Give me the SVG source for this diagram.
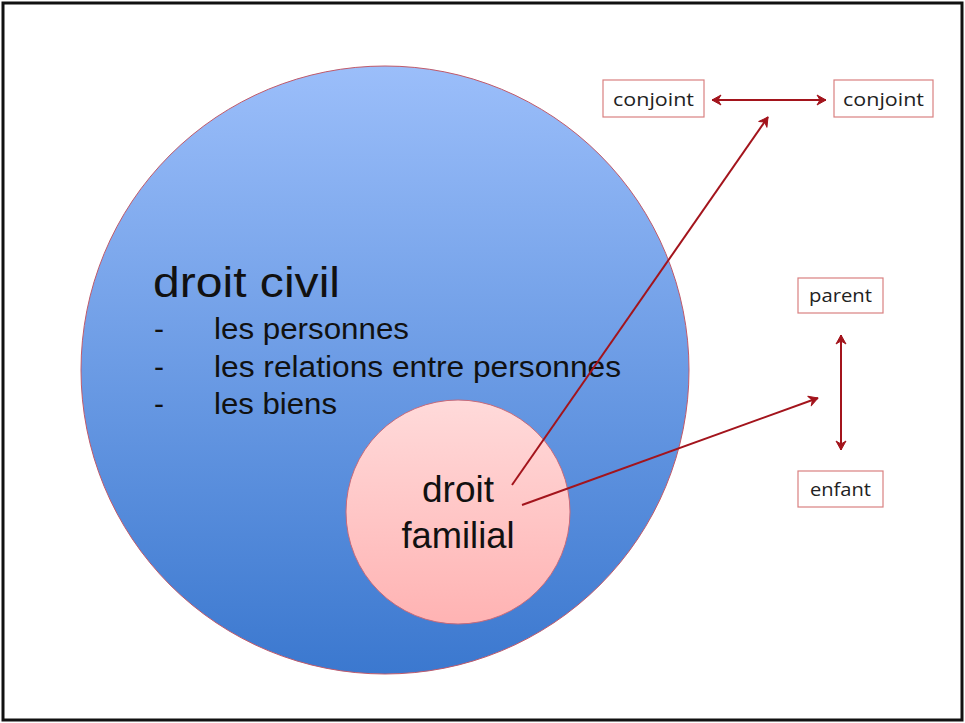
<svg xmlns="http://www.w3.org/2000/svg" width="965" height="723" viewBox="0 0 965 723">
<defs>
<linearGradient id="gBlue" x1="0" y1="0" x2="0" y2="1">
<stop offset="0" stop-color="#9BBEFA"/>
<stop offset="1" stop-color="#3B78CF"/>
</linearGradient>
<linearGradient id="gPink" x1="0" y1="0" x2="0" y2="1">
<stop offset="0" stop-color="#FFDADA"/>
<stop offset="1" stop-color="#FFB3B3"/>
</linearGradient>
<marker id="ah" viewBox="0 0 12 12" refX="10" refY="6" markerWidth="12" markerHeight="12" markerUnits="userSpaceOnUse" orient="auto-start-reverse">
<path d="M1,1 L10,6 L1,11 L4,6 Z" fill="#A3141C" stroke="#A3141C" stroke-width="1" stroke-linejoin="round"/>
</marker>
<style>
.box{fill:#fff;stroke:#D98080;stroke-width:1.2}
.bl{font-family:"Open Sans","Liberation Sans",sans-serif;font-size:19px;fill:#222;text-anchor:middle}
.big{font-family:"Liberation Sans",Arial,sans-serif;fill:#111}
.conn{stroke:#A3141C;stroke-width:2;fill:none}
</style>
</defs>
<rect x="0" y="0" width="965" height="723" fill="#fff"/>
<rect x="3" y="3" width="959" height="717" fill="none" stroke="#111" stroke-width="3"/>
<g id="droit-civil">
<circle cx="385" cy="370" r="304" fill="url(#gBlue)" stroke="#C05A6A" stroke-width="1"/>
<text class="big" x="153" y="297" font-size="43" textLength="187" lengthAdjust="spacingAndGlyphs">droit civil</text>
<text class="big" x="154" y="339" font-size="30">-</text>
<text class="big" x="214" y="339" font-size="30" textLength="195" lengthAdjust="spacingAndGlyphs">les personnes</text>
<text class="big" x="154" y="377" font-size="30">-</text>
<text class="big" x="214" y="377" font-size="30" textLength="407" lengthAdjust="spacingAndGlyphs">les relations entre personnes</text>
<text class="big" x="154" y="414" font-size="30">-</text>
<text class="big" x="214" y="414" font-size="30" textLength="123" lengthAdjust="spacingAndGlyphs">les biens</text>
</g>
<g id="droit-familial">
<circle cx="458" cy="512" r="112" fill="url(#gPink)" stroke="#C76A7A" stroke-width="1"/>
<text class="big" x="458" y="502" font-size="36" text-anchor="middle" textLength="72" lengthAdjust="spacingAndGlyphs">droit</text>
<text class="big" x="458" y="548" font-size="36" text-anchor="middle" textLength="113" lengthAdjust="spacingAndGlyphs">familial</text>
</g>
<g id="conjoint1">
<rect class="box" x="603" y="80" width="101" height="37"/>
<text class="bl" x="653.5" y="106" textLength="81" lengthAdjust="spacingAndGlyphs">conjoint</text>
</g>
<g id="conjoint2">
<rect class="box" x="834" y="80" width="99" height="37"/>
<text class="bl" x="883.5" y="106" textLength="81" lengthAdjust="spacingAndGlyphs">conjoint</text>
</g>
<g id="parent">
<rect class="box" x="798" y="278" width="85" height="35"/>
<text class="bl" x="840.5" y="302" textLength="63" lengthAdjust="spacingAndGlyphs">parent</text>
</g>
<g id="enfant">
<rect class="box" x="798" y="471" width="85" height="36"/>
<text class="bl" x="840.5" y="496" textLength="61" lengthAdjust="spacingAndGlyphs">enfant</text>
</g>
<g id="connectors">
<line class="conn" x1="712" y1="100" x2="826" y2="100" marker-start="url(#ah)" marker-end="url(#ah)"/>
<line class="conn" x1="841" y1="335" x2="841" y2="450" marker-start="url(#ah)" marker-end="url(#ah)"/>
<line class="conn" x1="512" y1="485" x2="768" y2="117" marker-end="url(#ah)"/>
<line class="conn" x1="522" y1="505" x2="818" y2="398" marker-end="url(#ah)"/>
</g>
</svg>
